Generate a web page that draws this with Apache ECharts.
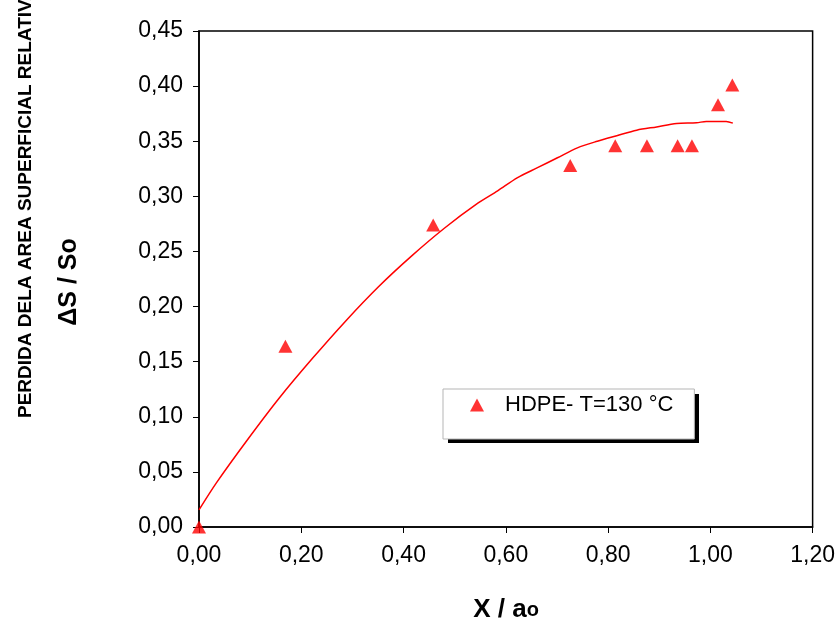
<!DOCTYPE html>
<html>
<head>
<meta charset="utf-8">
<script src="https://cdn.jsdelivr.net/npm/echarts@6/dist/echarts.min.js"></script>
<style>html,body{margin:0;padding:0;background:#fff}#c{width:838px;height:624px}</style>
</head>
<body>
<div id="c"></div>
<script>
// Experimental points (HDPE, T=130 °C)
var expX = [0, 0.169, 0.458, 0.726, 0.814, 0.876, 0.936, 0.964, 1.015, 1.043];
var expY = [0, 0.164, 0.274, 0.328, 0.346, 0.346, 0.346, 0.346, 0.383, 0.401];
// Fitted curve
var fitX = [0, 0.034, 0.093, 0.157, 0.222, 0.287, 0.351, 0.416, 0.481, 0.546, 0.584, 0.623, 0.662, 0.701, 0.740, 0.779, 0.817, 0.856, 0.895, 0.934, 0.973, 0.992, 1.031, 1.044];
var fitY = [0.0155, 0.040, 0.078, 0.117, 0.153, 0.187, 0.218, 0.246, 0.2715, 0.294, 0.305, 0.317, 0.326, 0.335, 0.344, 0.350, 0.355, 0.360, 0.363, 0.366, 0.3667, 0.368, 0.368, 0.3664];
var seriesName = 'HDPE- T=130 °C';
var yTitle1 = 'PERDIDA DELA AREA SUPERFICIAL RELATIVA';
var yTitle2 = 'ΔS / So';

var FONT = '"Liberation Sans", Arial, sans-serif';
function pairs(xs, ys) { return xs.map(function (x, i) { return [x, ys[i]]; }); }
function fmt(v) { return v.toFixed(2).replace('.', ','); }

var chart = echarts.init(document.getElementById('c'), null, { renderer: 'canvas' });
chart.setOption({
  animation: false,
  backgroundColor: '#fff',
  grid: { left: 199, right: 20, top: 31, bottom: 97, show: true, borderColor: '#000', borderWidth: 1.5, backgroundColor: 'transparent' },
  xAxis: {
    type: 'value', min: 0, max: 1.2, interval: 0.2,
    axisLine: { show: true, onZero: false, lineStyle: { color: '#000', width: 1.5 } },
    axisTick: { show: true, inside: false, length: 6, lineStyle: { color: '#000', width: 1 } },
    axisLabel: { formatter: fmt, color: '#000', fontSize: 23, fontFamily: FONT, margin: 17 },
    splitLine: { show: false }
  },
  yAxis: {
    type: 'value', min: 0, max: 0.45, interval: 0.05,
    axisLine: { show: true, onZero: false, lineStyle: { color: '#000', width: 1.5 } },
    axisTick: { show: true, inside: false, length: 6, lineStyle: { color: '#000', width: 1 } },
    axisLabel: { formatter: fmt, color: '#000', fontSize: 23, fontFamily: FONT, margin: 16 },
    splitLine: { show: false }
  },
  legend: {
    data: [seriesName],
    left: 443, top: 389,
    orient: 'vertical',
    padding: [3, 21, 21, 27],
    itemWidth: 14, itemHeight: 13,
    icon: 'triangle',
    backgroundColor: '#fff',
    borderColor: '#b5b5b5', borderWidth: 1, borderRadius: 0,
    textStyle: { color: '#000', fontSize: 22, fontFamily: FONT, lineHeight: 26, padding: [0, 0, 0, 16] },
    selectedMode: false,
    z: 10
  },
  series: [
    {
      name: 'fit', type: 'line', data: pairs(fitX, fitY),
      showSymbol: false, smooth: 0.3, clip: false,
      lineStyle: { color: '#ff0000', width: 1.5 }, itemStyle: { color: '#ff0000' }, z: 2
    },
    {
      name: seriesName, type: 'scatter', data: pairs(expX, expY),
      symbol: 'triangle', symbolSize: [14, 13], clip: false,
      itemStyle: { color: '#ff0000' }, z: 3
    }
  ],
  graphic: [
    { type: 'rect', z: 5, shape: { x: 448, y: 394, width: 251, height: 49 }, style: { fill: '#000' } },
    { type: 'text', x: 26, y: 418, rotation: Math.PI / 2,
      style: { text: yTitle1, fill: '#000', font: 'bold 19px ' + FONT, textAlign: 'left', textVerticalAlign: 'middle' } },
    { type: 'text', x: 69, y: 282, rotation: Math.PI / 2,
      style: { text: yTitle2, fill: '#000', font: 'bold 25px ' + FONT, textAlign: 'center', textVerticalAlign: 'middle' } },
    { type: 'text', x: 506, y: 610,
      style: { text: '{a|X / a}{b|o}', textAlign: 'center', textVerticalAlign: 'middle',
        rich: { a: { fill: '#000', font: 'bold 26px ' + FONT, verticalAlign: 'bottom' },
                b: { fill: '#000', font: 'bold 20px ' + FONT, verticalAlign: 'bottom', padding: [0, 0, 3, 0] } } } }
  ]
});
</script>
</body>
</html>
